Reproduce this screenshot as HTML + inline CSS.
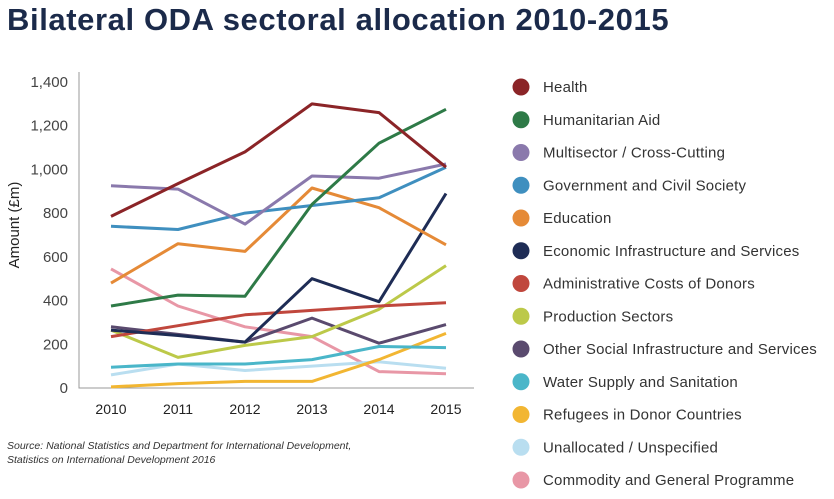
<!DOCTYPE html>
<html><head><meta charset="utf-8"><style>
body{margin:0;background:#fff;font-family:"Liberation Sans",sans-serif;}
#wrap{position:relative;width:834px;height:499px;overflow:hidden}
#title{position:absolute;left:7px;top:2px;font-size:31px;font-weight:bold;color:#1b2a4a;white-space:nowrap;letter-spacing:0.6px}
.src{position:absolute;left:7px;font-size:10.5px;font-style:italic;color:#333;white-space:nowrap}
</style></head><body>
<div id="wrap">
<div id="title">Bilateral ODA sectoral allocation 2010-2015</div>
<svg id="chart" width="834" height="499" style="position:absolute;left:0;top:0"></svg>
<div class="src" style="top:440px">Source: National Statistics and Department for International Development,</div>
<div class="src" style="top:454px">Statistics on International Development 2016</div>
</div>
<script>
const years=[2010,2011,2012,2013,2014,2015];
const yTicks=[0,200,400,600,800,1000,1200,1400];
const seriesNames=["Health","Humanitarian Aid","Multisector / Cross-Cutting","Government and Civil Society","Education","Economic Infrastructure and Services","Administrative Costs of Donors","Production Sectors","Other Social Infrastructure and Services","Water Supply and Sanitation","Refugees in Donor Countries","Unallocated / Unspecified","Commodity and General Programme"];
const seriesColors=["#8b2427","#2e7a47","#8a79ac","#3f8fbf","#e58a37","#1e2c55","#c0473d","#bcc949","#5a4a6e","#4ab6c9","#f2b632","#b9def0","#e897a6"];
const health=[785,935,1080,1300,1260,1010];
const humanitarian=[375,425,420,840,1120,1275];
const multisector=[925,910,750,970,960,1025];
const government=[740,725,800,835,870,1010];
const education=[480,660,625,915,825,655];
const econInfra=[265,240,210,500,395,890];
const adminCosts=[235,285,335,355,375,390];
const production=[265,140,195,235,360,560];
const otherSocial=[280,245,210,320,205,290];
const water=[95,110,110,130,190,185];
const refugees=[5,20,30,30,130,250];
const unallocated=[60,110,80,100,120,90];
const commodity=[545,375,280,235,75,65];
const seriesValues=[health,humanitarian,multisector,government,education,econInfra,adminCosts,production,otherSocial,water,refugees,unallocated,commodity];

const svg=document.getElementById('chart');
const NS="http://www.w3.org/2000/svg";
const x0=111,x1=446,yb=388,yt=82;
const xs=i=>x0+(x1-x0)*i/(years.length-1);
const ys=v=>yb-(yb-yt)*v/1400;
function mk(t,a){const e=document.createElementNS(NS,t);for(const k in a)e.setAttribute(k,a[k]);svg.appendChild(e);return e;}
let ax=mk('path',{d:`M79 72 V388 H474`,fill:'none',stroke:'#999','stroke-width':1});


yTicks.forEach(v=>{const t=mk('text',{x:68,y:ys(v)+5,'text-anchor':'end','font-size':15,fill:'#444','font-family':'Liberation Sans, sans-serif'});t.textContent=v.toLocaleString('en-US');

});
years.forEach((y,i)=>{const t=mk('text',{x:xs(i),y:414,'text-anchor':'middle','font-size':14,fill:'#222','font-family':'Liberation Sans, sans-serif'});t.textContent=y;

});
const yl=mk('text',{x:0,y:0,transform:'translate(19,225) rotate(-90)','text-anchor':'middle','font-size':15,fill:'#222','font-family':'Liberation Sans, sans-serif'});yl.textContent='Amount (£m)';


for(let s=seriesValues.length-1;s>=0;s--){
 const d=seriesValues[s].map((v,i)=>(i?'L':'M')+xs(i).toFixed(1)+' '+ys(v).toFixed(1)).join(' ');
 const p=mk('path',{d,fill:'none',stroke:seriesColors[s],'stroke-width':3,'stroke-linejoin':'round'});
 
 
}
seriesNames.forEach((n,i)=>{
 const y=87+i*32.75;
 const c=mk('circle',{cx:521,cy:y,r:8.5,fill:seriesColors[i]});
 
 
 const t=mk('text',{x:543,y:y+5,'font-size':15,'letter-spacing':0.2,fill:'#333','font-family':'Liberation Sans, sans-serif'});t.textContent=n;
 
 
});
</script>
</body></html>
